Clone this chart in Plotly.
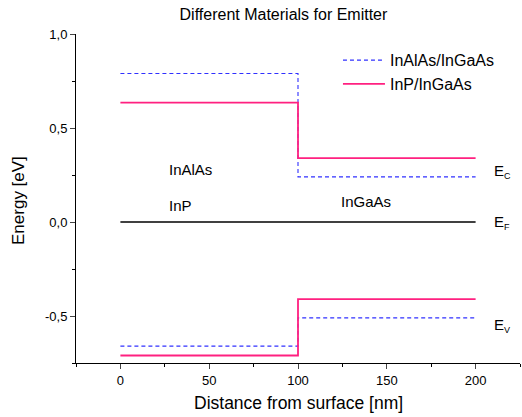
import plotly.graph_objects as go

# Step positions (nm)
x_steps = [0, 100, 200]
# InAlAs/InGaAs (dashed blue)
inalas_ec = [0.79, 0.24, 0.24]
inalas_ev = [-0.66, -0.51, -0.51]
# InP/InGaAs (solid pink)
inp_ec = [0.635, 0.34, 0.34]
inp_ev = [-0.71, -0.41, -0.41]
# Fermi level
ef_x = [0, 200]
ef_y = [0.0, 0.0]

x_ticks = [0, 50, 100, 150, 200]
y_tickvals = [1.0, 0.5, 0.0, -0.5]
y_ticktext = ["1,0", "0,5", "0,0", "-0,5"]

blue = "#3030ff"
pink = "#ff2080"

fig = go.Figure()
fig.add_trace(go.Scatter(x=x_steps, y=inalas_ec, mode="lines", line_shape="hv",
                         line=dict(color=blue, width=1.1, dash="4px,3px"),
                         name="InAlAs/InGaAs", legendgroup="a"))
fig.add_trace(go.Scatter(x=x_steps, y=inalas_ev, mode="lines", line_shape="hv",
                         line=dict(color=blue, width=1.1, dash="4px,3px"),
                         name="InAlAs/InGaAs", legendgroup="a", showlegend=False))
fig.add_trace(go.Scatter(x=x_steps, y=inp_ec, mode="lines", line_shape="hv",
                         line=dict(color=pink, width=1.8),
                         name="InP/InGaAs", legendgroup="b"))
fig.add_trace(go.Scatter(x=x_steps, y=inp_ev, mode="lines", line_shape="hv",
                         line=dict(color=pink, width=1.8),
                         name="InP/InGaAs", legendgroup="b", showlegend=False))
fig.add_trace(go.Scatter(x=ef_x, y=ef_y, mode="lines",
                         line=dict(color="black", width=1.3), showlegend=False))

font = "Arial, Liberation Sans, sans-serif"
sub = "<sub><span style='font-size:9px'>{}</span></sub>"
annots = [
    dict(x=26.5, y=0.28, text="InAlAs"),
    dict(x=26.5, y=0.09, text="InP"),
    dict(x=123, y=0.108, text="InGaAs"),
    dict(x=209, y=0.27, text="E" + sub.format("C")),
    dict(x=209, y=0.0, text="E" + sub.format("F")),
    dict(x=209, y=-0.55, text="E" + sub.format("V")),
]
for a in annots:
    fig.add_annotation(x=a["x"], y=a["y"], text=a["text"], xanchor="left",
                       yanchor="middle", showarrow=False,
                       font=dict(family=font, size=15, color="black"))

# Axis titles placed in paper coordinates
fig.add_annotation(xref="paper", yref="paper", x=0.5, y=-0.122, yanchor="middle",
                   xanchor="center", text="Distance from surface [nm]", showarrow=False,
                   font=dict(family=font, size=17.5, color="black"))
fig.add_annotation(xref="paper", yref="paper", x=-0.131, y=0.495, xanchor="center",
                   yanchor="middle", text="Energy [eV]", textangle=-90, showarrow=False,
                   font=dict(family=font, size=17, color="black"))

fig.update_layout(
    width=522, height=417,
    margin=dict(l=76, r=2, t=34, b=54),
    paper_bgcolor="white", plot_bgcolor="white",
    title=dict(text="Different Materials for Emitter", x=0.543, xanchor="center",
               y=0.966, yanchor="middle", font=dict(family=font, size=16, color="black")),
    legend=dict(x=0.59, y=0.972, xanchor="left", yanchor="top", itemwidth=42,
                bgcolor="rgba(0,0,0,0)", font=dict(family=font, size=16, color="black"),
                tracegroupgap=0),
    xaxis=dict(range=[-25, 225], tickvals=x_ticks, ticks="outside", ticklen=5,
               automargin=False,
               showline=True, linecolor="black", linewidth=1, showgrid=False,
               zeroline=False, tickfont=dict(family=font, size=13, color="black"),
               minor=dict(tick0=0, dtick=25, ticks="outside", ticklen=3, tickcolor="black")),
    yaxis=dict(range=[-0.75, 1.0], tickvals=y_tickvals, ticktext=y_ticktext,
               ticks="outside", ticklen=5, automargin=False,
               showline=True, linecolor="black", linewidth=1, showgrid=False,
               zeroline=False, tickfont=dict(family=font, size=13, color="black"),
               minor=dict(tick0=0, dtick=0.25, ticks="outside", ticklen=3, tickcolor="black")),
)

fig.write_html("out.html", post_script="document.body.style.margin='0';",
               config={"displayModeBar": False})
